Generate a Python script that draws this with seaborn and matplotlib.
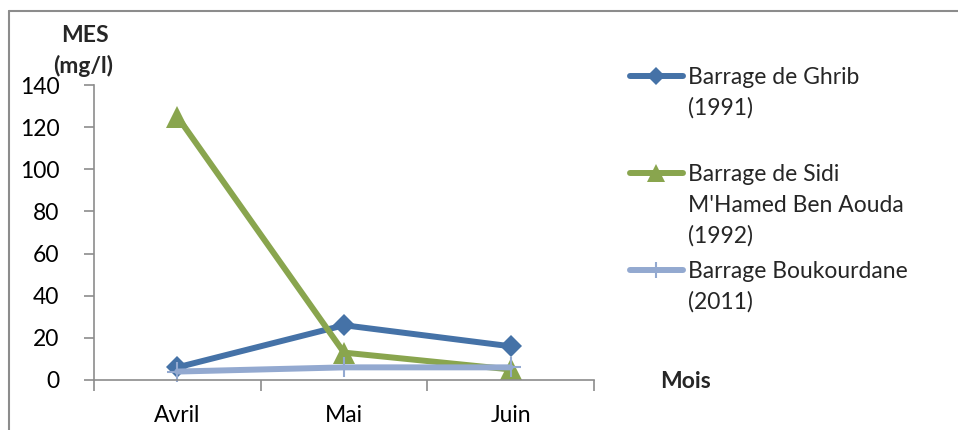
import matplotlib
matplotlib.use("Agg")
import matplotlib.pyplot as plt
from matplotlib.lines import Line2D
import seaborn as sns
import pandas as pd
import numpy as np

# Monthly suspended matter (MES) for three dams
mois = ["Avril", "Mai", "Juin"]
ghrib = [6, 26, 16]
sidi = [125, 13, 5]
boukourdane = [4, 6, 6]

series_names = ["Barrage de Ghrib\n(1991)",
                "Barrage de Sidi\nM'Hamed Ben Aouda\n(1992)",
                "Barrage Boukourdane\n(2011)"]
colors = ["#4572A7", "#89A54E", "#93A9D0"]
markers = ["D", "^", "+"]
msizes = [11, 16, 14]

df = pd.DataFrame({
    "Mois": mois * 3,
    "MES": ghrib + sidi + boukourdane,
    "Serie": sum([[n] * 3 for n in series_names], []),
})

sns.set_theme(style="white")
plt.rcParams["font.family"] = ["Lato", "DejaVu Sans"]

FS = 16.5

fig = plt.figure(figsize=(9.58, 4.30), dpi=100)
ax = fig.add_axes([94 / 958, 1 - 380 / 430, 500 / 958, 295 / 430])

x_pos = {m: i for i, m in enumerate(mois)}
df["x"] = df["Mois"].map(x_pos)

sns.lineplot(data=df, x="x", y="MES", hue="Serie", palette=colors,
             hue_order=series_names, ax=ax, legend=False, linewidth=4.3,
             sort=False)
for line, mk, ms, c in zip(ax.get_lines(), markers, msizes, colors):
    line.set_marker(mk)
    line.set_markersize(ms)
    line.set_markerfacecolor(c)
    line.set_markeredgecolor(c)
    line.set_markeredgewidth(1.5 if mk == "+" else 0)
    line.set_solid_capstyle("round")
    line.set_clip_on(False)

ax.set_xlim(-0.5, 2.5)
ax.set_ylim(0, 140)
ax.set_yticks(np.arange(0, 141, 20))
ax.set_xticks([-0.5, 0.5, 1.5, 2.5])
ax.set_xticklabels([])
ax.set_xticks(range(3), minor=True)
ax.set_xticklabels(mois, minor=True)
ax.set_xlabel("")
ax.set_ylabel("")

for s in ["top", "right"]:
    ax.spines[s].set_visible(False)
for s in ["left", "bottom"]:
    ax.spines[s].set_color("#8c8c8c")
    ax.spines[s].set_linewidth(1.2)

ax.tick_params(axis="y", which="major", direction="out", length=7, width=1.2,
               color="#8c8c8c", labelsize=FS, pad=18, left=True)
ax.tick_params(axis="x", which="major", direction="out", length=8, width=1.2,
               color="#8c8c8c", bottom=True)
ax.tick_params(axis="x", which="minor", length=0, labelsize=FS, pad=18)
for t in ax.get_yticklabels() + ax.get_xticklabels(minor=True):
    t.set_color("black")

# Axis titles
fig.text(85 / 958, 1 - 36 / 430, "MES", ha="center", va="center",
         fontsize=FS, fontweight="bold")
fig.text(83 / 958, 1 - 66 / 430, "(mg/l)", ha="center", va="center",
         fontsize=FS, fontweight="bold")
fig.text(686 / 958, 1 - 381 / 430, "Mois", ha="center", va="center",
         fontsize=FS, fontweight="bold")

# Legend: handle aligned with the first text line of each entry
leg_y = [76, 173, 270]
line_step = 31
for name, c, mk, ms, y in zip(series_names, colors, markers, msizes, leg_y):
    yf = 1 - y / 430
    fig.add_artist(Line2D([630 / 958, 683 / 958], [yf, yf], transform=fig.transFigure,
                          color=c, linewidth=4.3, solid_capstyle="round"))
    fig.add_artist(Line2D([656 / 958], [yf], transform=fig.transFigure,
                          marker=mk, markersize=ms * 0.8, color=c,
                          markeredgewidth=1.5 if mk == "+" else 0,
                          linestyle="none"))
    for k, part in enumerate(name.split("\n")):
        fig.text(688 / 958, 1 - (y + 8 + k * line_step) / 430, part,
                 ha="left", va="baseline", fontsize=FS)

# Chart area border
fig.add_artist(Line2D([9 / 958, 958 / 958], [1 - 11 / 430, 1 - 11 / 430],
                      transform=fig.transFigure, color="#8c8c8c", linewidth=1.5))
fig.add_artist(Line2D([9 / 958, 9 / 958], [0, 1 - 11 / 430],
                      transform=fig.transFigure, color="#8c8c8c", linewidth=1.5))

fig.savefig("out.png", dpi=100)
